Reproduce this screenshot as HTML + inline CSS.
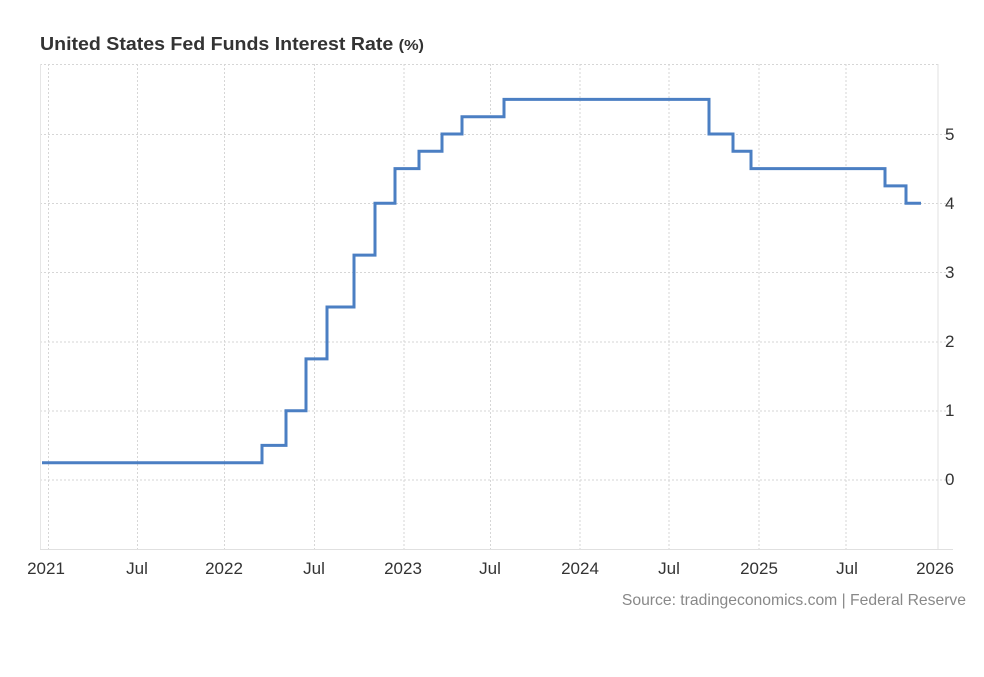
<!DOCTYPE html>
<html><head><style>
body{margin:0;background:#fff;width:984px;height:672px;overflow:hidden;font-family:"Liberation Sans",Arial,sans-serif}
</style></head><body>
<svg width="984" height="672" xmlns="http://www.w3.org/2000/svg" font-family="Liberation Sans, Arial, sans-serif">
<text x="40" y="50" font-size="18" font-weight="bold" fill="#333" textLength="384" lengthAdjust="spacingAndGlyphs">United States Fed Funds Interest Rate <tspan font-size="15">(%)</tspan></text>
<g stroke="#d6d6d6" stroke-width="1" stroke-dasharray="2,2">
<line x1="40" y1="64.5" x2="938" y2="64.5"/>
<line x1="40" y1="134.5" x2="950" y2="134.5"/>
<line x1="40" y1="203.5" x2="950" y2="203.5"/>
<line x1="40" y1="272.5" x2="950" y2="272.5"/>
<line x1="40" y1="342" x2="950" y2="342"/>
<line x1="40" y1="411" x2="950" y2="411"/>
<line x1="40" y1="480" x2="950" y2="480"/>
<line x1="48.5" y1="64" x2="48.5" y2="549"/>
<line x1="137.5" y1="64" x2="137.5" y2="549"/>
<line x1="224.5" y1="64" x2="224.5" y2="549"/>
<line x1="314.5" y1="64" x2="314.5" y2="549"/>
<line x1="404" y1="64" x2="404" y2="549"/>
<line x1="490.5" y1="64" x2="490.5" y2="549"/>
<line x1="580" y1="64" x2="580" y2="549"/>
<line x1="669" y1="64" x2="669" y2="549"/>
<line x1="759" y1="64" x2="759" y2="549"/>
<line x1="846" y1="64" x2="846" y2="549"/>
</g>
<line x1="40.5" y1="64" x2="40.5" y2="549" stroke="#e6e6e6"/>
<line x1="938" y1="64" x2="938" y2="549" stroke="#e0e0e0"/>
<line x1="40" y1="549.5" x2="953" y2="549.5" stroke="#e0e0e0"/>
<path fill="none" stroke="#4b7fc3" stroke-width="3" d="M42 462.7 H262 V445.4 H286 V410.8 H306 V358.9 H327 V307 H354 V255.1 H375 V203.2 H395 V168.6 H419 V151.3 H442 V134 H462 V116.7 H504 V99.4 H709 V134 H733 V151.3 H751 V168.6 H885 V185.9 H906 V203.2 H921"/>
<g font-size="17" fill="#333">
<text x="945" y="140">5</text>
<text x="945" y="209">4</text>
<text x="945" y="278">3</text>
<text x="945" y="347">2</text>
<text x="945" y="416">1</text>
<text x="945" y="485">0</text>
</g>
<g font-size="17" fill="#333" text-anchor="middle">
<text x="46" y="574">2021</text>
<text x="137" y="574">Jul</text>
<text x="224" y="574">2022</text>
<text x="314" y="574">Jul</text>
<text x="403" y="574">2023</text>
<text x="490" y="574">Jul</text>
<text x="580" y="574">2024</text>
<text x="669" y="574">Jul</text>
<text x="759" y="574">2025</text>
<text x="847" y="574">Jul</text>
<text x="935" y="574">2026</text>
</g>
<text x="966" y="605" font-size="15.7" fill="#888" text-anchor="end">Source: tradingeconomics.com | Federal Reserve</text>
</svg>
</body></html>
